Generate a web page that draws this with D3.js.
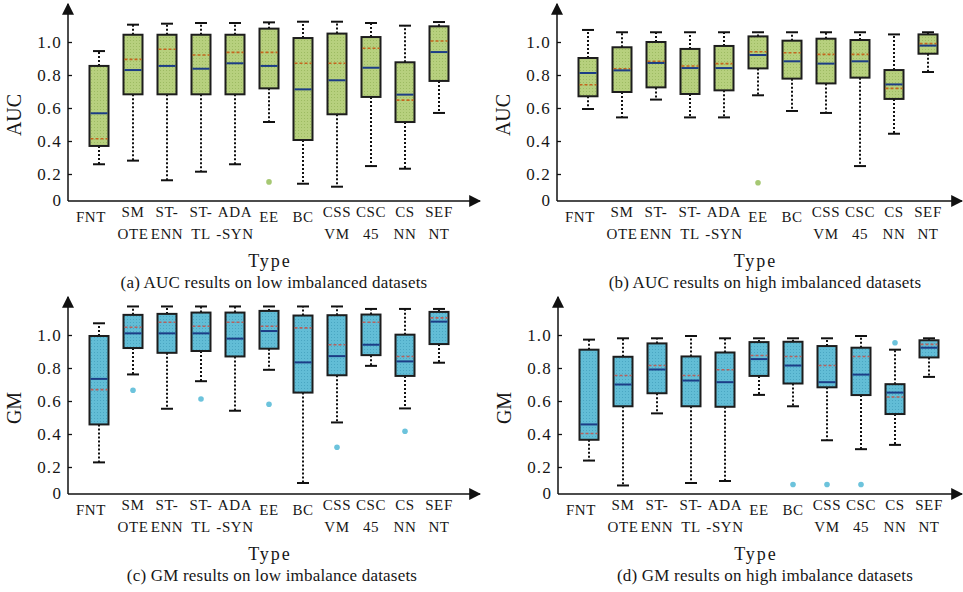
<!DOCTYPE html>
<html>
<head>
<meta charset="utf-8">
<script src="https://cdn.jsdelivr.net/npm/d3@7"></script>
<style>
  body { margin: 0; background: #fff; }
  text { font-family: "Liberation Serif", "Times New Roman", serif; fill: #161616; }
</style>
</head>
<body>
<svg id="fig" width="963" height="592"></svg>
<script>
// methods on the x axis (two lines for the long ones)
var categories = ["FNT", "SMOTE", "ST-ENN", "ST-TL", "ADA-SYN", "EE", "BC", "CSSVM", "CSC45", "CSNN", "SEFNT"];
var catLines = [["FNT"], ["SM", "OTE"], ["ST-", "ENN"], ["ST-", "TL"], ["ADA", "-SYN"], ["EE"], ["BC"],
                ["CSS", "VM"], ["CSC", "45"], ["CS", "NN"], ["SEF", "NT"]];
var yTicks = [0.2, 0.4, 0.6, 0.8, 1.0];

// (a) AUC, low imbalance
var aucLowLo   = [0.259, 0.281, 0.162, 0.214, 0.259, 0.515, 0.141, 0.123, 0.248, 0.232, 0.570];
var aucLowQ1   = [0.370, 0.683, 0.683, 0.683, 0.683, 0.719, 0.406, 0.562, 0.667, 0.515, 0.764];
var aucLowMed  = [0.568, 0.830, 0.855, 0.838, 0.871, 0.855, 0.713, 0.768, 0.844, 0.681, 0.939];
var aucLowQ3   = [0.855, 1.044, 1.044, 1.044, 1.044, 1.081, 1.024, 1.051, 1.030, 0.877, 1.095];
var aucLowHi   = [0.945, 1.105, 1.111, 1.115, 1.115, 1.119, 1.123, 1.123, 1.115, 1.099, 1.121];
var aucLowMean = [0.414, 0.895, 0.956, 0.921, 0.937, 0.937, 0.871, 0.871, 0.962, 0.648, 1.006];
var aucLowOut  = [["EE", 0.152]];

// (b) AUC, high imbalance
var aucHighLo   = [0.594, 0.543, 0.651, 0.543, 0.543, 0.677, 0.582, 0.570, 0.248, 0.444, 0.818];
var aucHighQ1   = [0.671, 0.697, 0.725, 0.685, 0.707, 0.840, 0.778, 0.749, 0.784, 0.655, 0.929];
var aucHighMed  = [0.812, 0.828, 0.873, 0.842, 0.842, 0.921, 0.883, 0.869, 0.883, 0.743, 0.978];
var aucHighQ3   = [0.903, 0.968, 1.000, 0.958, 0.976, 1.034, 1.008, 1.020, 1.012, 0.830, 1.046];
var aucHighHi   = [1.073, 1.059, 1.059, 1.059, 1.059, 1.059, 1.059, 1.059, 1.059, 1.046, 1.059];
var aucHighMean = [0.741, 0.838, 0.883, 0.855, 0.869, 0.941, 0.935, 0.925, 0.925, 0.719, 0.990];
var aucHighOut  = [["EE", 0.147]];

// (c) GM, low imbalance
var gmLowLo   = [0.228, 0.761, 0.553, 0.720, 0.541, 0.789, 0.103, 0.470, 0.813, 0.555, 0.832];
var gmLowQ1   = [0.458, 0.921, 0.892, 0.903, 0.870, 0.917, 0.651, 0.756, 0.878, 0.752, 0.945];
var gmLowMed  = [0.734, 1.010, 1.010, 1.010, 0.978, 1.024, 0.834, 0.872, 0.941, 0.840, 1.081];
var gmLowQ3   = [0.994, 1.122, 1.128, 1.136, 1.136, 1.146, 1.118, 1.120, 1.124, 1.002, 1.140];
var gmLowHi   = [1.071, 1.173, 1.173, 1.173, 1.173, 1.173, 1.173, 1.173, 1.158, 1.158, 1.158];
var gmLowMean = [0.669, 1.047, 1.077, 1.053, 1.077, 1.053, 1.043, 0.941, 1.077, 0.870, 1.104];
var gmLowOut  = [["SMOTE", 0.665], ["ST-TL", 0.612], ["EE", 0.580], ["CSSVM", 0.320], ["CSNN", 0.417]];

// (d) GM, high imbalance
var gmHighLo   = [0.239, 0.088, 0.525, 0.103, 0.115, 0.637, 0.568, 0.362, 0.308, 0.334, 0.746];
var gmHighQ1   = [0.365, 0.568, 0.647, 0.568, 0.565, 0.752, 0.706, 0.683, 0.636, 0.521, 0.864];
var gmHighMed  = [0.458, 0.700, 0.791, 0.724, 0.714, 0.854, 0.815, 0.714, 0.760, 0.651, 0.923];
var gmHighQ3   = [0.911, 0.868, 0.949, 0.870, 0.894, 0.957, 0.959, 0.933, 0.923, 0.702, 0.968];
var gmHighHi   = [0.972, 0.980, 0.980, 0.994, 0.980, 0.980, 0.980, 0.980, 0.994, 0.911, 0.980];
var gmHighMean = [0.403, 0.755, 0.815, 0.755, 0.789, 0.876, 0.870, 0.815, 0.870, 0.624, 0.943];
var gmHighOut  = [["BC", 0.094], ["CSSVM", 0.094], ["CSC45", 0.094], ["CSNN", 0.953]];

var svg = d3.select("#fig");
var defs = svg.append("defs");

// arrow heads for the axes
defs.append("marker")
	.attr("id", "arrow")
	.attr("viewBox", "0 0 10 10")
	.attr("refX", 9).attr("refY", 5)
	.attr("markerWidth", 12).attr("markerHeight", 12)
	.attr("markerUnits", "userSpaceOnUse")
	.attr("orient", "auto")
	.append("path")
	.attr("d", "M0,0 L10,5 L0,10 z")
	.attr("fill", "#111");

// dotted texture inside the boxes
function addPattern(id, base, dot) {
	var p = defs.append("pattern")
		.attr("id", id)
		.attr("width", 3).attr("height", 3)
		.attr("patternUnits", "userSpaceOnUse");
	p.append("rect").attr("width", 3).attr("height", 3).attr("fill", base);
	p.append("rect").attr("x", 1).attr("y", 1).attr("width", 1).attr("height", 1).attr("fill", dot);
}
addPattern("greenDots", "#b7d07e", "#9dbb62");
addPattern("blueDots", "#62bdd6", "#4aa6c2");

var panels = [
	{x0: 68,  y0: 201, xEnd: 480, yLabel: "AUC", caption: "(a) AUC results on low imbalanced datasets",
	 capX: 274, fill: "url(#greenDots)", meanColor: "#c4661e", outColor: "#a6c873",
	 lo: aucLowLo, q1: aucLowQ1, med: aucLowMed, q3: aucLowQ3, hi: aucLowHi, mean: aucLowMean, out: aucLowOut},
	{x0: 557, y0: 201, xEnd: 962, yLabel: "AUC", caption: "(b) AUC results on high imbalanced datasets",
	 capX: 765, fill: "url(#greenDots)", meanColor: "#c4661e", outColor: "#a6c873",
	 lo: aucHighLo, q1: aucHighQ1, med: aucHighMed, q3: aucHighQ3, hi: aucHighHi, mean: aucHighMean, out: aucHighOut},
	{x0: 68,  y0: 494, xEnd: 480, yLabel: "GM", caption: "(c) GM results on low imbalance datasets",
	 capX: 272, fill: "url(#blueDots)", meanColor: "#b4625e", outColor: "#6cc3dc",
	 lo: gmLowLo, q1: gmLowQ1, med: gmLowMed, q3: gmLowQ3, hi: gmLowHi, mean: gmLowMean, out: gmLowOut},
	{x0: 558, y0: 494, xEnd: 962, yLabel: "GM", caption: "(d) GM results on high imbalance datasets",
	 capX: 765, fill: "url(#blueDots)", meanColor: "#b4625e", outColor: "#6cc3dc",
	 lo: gmHighLo, q1: gmHighQ1, med: gmHighMed, q3: gmHighQ3, hi: gmHighHi, mean: gmHighMean, out: gmHighOut}
];

var boxW = 19, capW = 12;

panels.forEach(function(p) {
	var g = svg.append("g");

	var x = d3.scalePoint()
		.domain(categories)
		.range([p.x0 + 31, p.x0 + 371]);

	// the "0" label sits on the x axis, the rest follow this scale
	var y = d3.scaleLinear()
		.domain([0, 1])
		.range([p.y0 + 6, p.y0 - 159]);

	var rows = categories.map(function(c, i) {
		return {cat: c, lo: p.lo[i], q1: p.q1[i], med: p.med[i], q3: p.q3[i], hi: p.hi[i], mean: p.mean[i]};
	});

	// y axis ticks + labels
	var yAxis = g.append("g")
		.attr("transform", "translate(" + p.x0 + ",0)")
		.call(d3.axisLeft(y).tickValues(yTicks).tickSizeInner(-4).tickSizeOuter(0).tickPadding(6)
			.tickFormat(d3.format(".1f")));
	yAxis.select(".domain").remove();
	yAxis.selectAll("line").attr("stroke", "#111").attr("stroke-width", 1.3);
	yAxis.selectAll("text")
		.attr("font-size", 17).attr("letter-spacing", 1.2)
		.attr("font-family", "Liberation Serif").attr("fill", "#161616");
	g.append("text")
		.attr("x", p.x0 - 7).attr("y", p.y0).attr("dy", "0.32em")
		.attr("text-anchor", "end").attr("font-size", 17)
		.text("0");

	// axis lines with arrows
	g.append("line")
		.attr("x1", p.x0).attr("x2", p.x0)
		.attr("y1", p.y0).attr("y2", p.y0 - 197)
		.attr("stroke", "#111").attr("stroke-width", 1.5)
		.attr("marker-end", "url(#arrow)");
	g.append("line")
		.attr("x1", p.x0).attr("x2", p.xEnd)
		.attr("y1", p.y0).attr("y2", p.y0)
		.attr("stroke", "#111").attr("stroke-width", 1.5)
		.attr("marker-end", "url(#arrow)");

	// whiskers
	g.selectAll(".whUp").data(rows).join("line")
		.attr("x1", function(d) { return x(d.cat); }).attr("x2", function(d) { return x(d.cat); })
		.attr("y1", function(d) { return y(d.q3); }).attr("y2", function(d) { return y(d.hi); })
		.attr("stroke", "#111").attr("stroke-width", 2).attr("stroke-dasharray", "2,2");
	g.selectAll(".whDown").data(rows).join("line")
		.attr("x1", function(d) { return x(d.cat); }).attr("x2", function(d) { return x(d.cat); })
		.attr("y1", function(d) { return y(d.q1); }).attr("y2", function(d) { return y(d.lo); })
		.attr("stroke", "#111").attr("stroke-width", 2).attr("stroke-dasharray", "2,2");

	// caps
	["hi", "lo"].forEach(function(k) {
		g.selectAll(".cap" + k).data(rows).join("line")
			.attr("x1", function(d) { return x(d.cat) - capW / 2; })
			.attr("x2", function(d) { return x(d.cat) + capW / 2; })
			.attr("y1", function(d) { return y(d[k]); }).attr("y2", function(d) { return y(d[k]); })
			.attr("stroke", "#111").attr("stroke-width", 2);
	});

	// boxes
	g.selectAll(".box").data(rows).join("rect")
		.attr("x", function(d) { return x(d.cat) - boxW / 2; })
		.attr("y", function(d) { return y(d.q3); })
		.attr("width", boxW)
		.attr("height", function(d) { return y(d.q1) - y(d.q3); })
		.attr("fill", p.fill)
		.attr("stroke", "#1d1d1d").attr("stroke-width", 2);

	// mean (dashed) and median lines
	g.selectAll(".mean").data(rows).join("line")
		.attr("x1", function(d) { return x(d.cat) - boxW / 2 + 1; })
		.attr("x2", function(d) { return x(d.cat) + boxW / 2 - 1; })
		.attr("y1", function(d) { return y(d.mean); }).attr("y2", function(d) { return y(d.mean); })
		.attr("stroke", p.meanColor).attr("stroke-width", 1.6).attr("stroke-dasharray", "3,2");
	g.selectAll(".med").data(rows).join("line")
		.attr("x1", function(d) { return x(d.cat) - boxW / 2 + 1; })
		.attr("x2", function(d) { return x(d.cat) + boxW / 2 - 1; })
		.attr("y1", function(d) { return y(d.med); }).attr("y2", function(d) { return y(d.med); })
		.attr("stroke", "#1c3d86").attr("stroke-width", 2);

	// outliers
	g.selectAll(".out").data(p.out).join("circle")
		.attr("cx", function(d) { return x(d[0]); })
		.attr("cy", function(d) { return y(d[1]); })
		.attr("r", 2.8)
		.attr("fill", p.outColor);

	// category labels (FNT sits a bit left of its box in the original)
	var lab = g.selectAll(".lab").data(catLines).join("text")
		.attr("x", function(d, i) { return x(categories[i]) + (i === 0 ? -8 : 0); })
		.attr("y", function(d) { return d.length > 1 ? p.y0 + 16 : p.y0 + 21; })
		.attr("text-anchor", "middle")
		.attr("font-size", 15).attr("letter-spacing", 0.6);
	lab.selectAll("tspan").data(function(d) { return d; }).join("tspan")
		.attr("x", function() { return d3.select(this.parentNode).attr("x"); })
		.attr("dy", function(d, i) { return i === 0 ? 0 : 22; })
		.text(function(d) { return d; });

	// axis titles and caption
	g.append("text")
		.attr("transform", "translate(" + (p.x0 - 47) + "," + (p.y0 - 86) + ") rotate(-90)")
		.attr("text-anchor", "middle")
		.attr("font-size", 20)
		.text(p.yLabel);
	g.append("text")
		.attr("x", (p.x0 + p.xEnd) / 2 - 4).attr("y", p.y0 + 66)
		.attr("text-anchor", "middle")
		.attr("font-size", 18).attr("letter-spacing", 2)
		.text("Type");
	g.append("text")
		.attr("x", p.capX).attr("y", p.y0 + 87)
		.attr("text-anchor", "middle")
		.attr("font-size", 17).attr("letter-spacing", 0.2)
		.text(p.caption);
});
</script>
</body>
</html>
